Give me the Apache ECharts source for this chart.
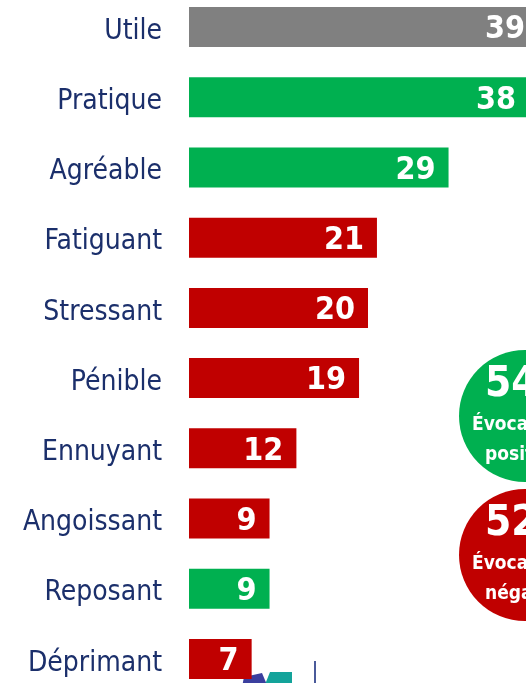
<!DOCTYPE html>
<html>
<head>
<meta charset="utf-8">
<script src="https://cdn.jsdelivr.net/npm/echarts@6/dist/echarts.min.js"></script>
<style>
  html, body { margin: 0; padding: 0; background: #fff; width: 526px; height: 683px; overflow: hidden; position: relative; }
  #barChart { position: absolute; left: 0; top: -8px; width: 580px; height: 720px; }
</style>
</head>
<body>
<div id="barChart"></div>
<script>
// données
var categories = ['Utile', 'Pratique', 'Agréable', 'Fatiguant', 'Stressant', 'Pénible', 'Ennuyant', 'Angoissant', 'Reposant', 'Déprimant'];
var values = [39, 38, 29, 21, 20, 19, 12, 9, 9, 7];
var tone = ['neutre', 'positif', 'positif', 'negatif', 'negatif', 'negatif', 'negatif', 'negatif', 'positif', 'negatif'];
var summaryValues = ['54', '52'];
var summaryWords = [['Évocations', 'positives'], ['Évocations', 'négatives']];

var colors = { neutre: '#808080', positif: '#00b050', negatif: '#c00000' };
var navy = '#1b2f6b';
var narrow = '"DejaVu Sans Condensed", "DejaVu Sans", sans-serif';

var chartContainer = document.getElementById('barChart');
var myChart = echarts.init(chartContainer);

var barData = values.map(function (v, i) {
  return { value: v, itemStyle: { color: colors[tone[i]] } };
});

// le conteneur est décalé de 8px vers le haut
function circle(cy, fill, big, words) {
  cy = cy + 8;
  return {
    type: 'group',
    children: [
      { type: 'circle', shape: { cx: 525, cy: cy, r: 66 }, style: { fill: fill } },
      { type: 'text', style: { x: 485, y: cy - 31, text: big, fill: '#fff', align: 'left', verticalAlign: 'middle',
          font: 'bold 42px ' + narrow } },
      { type: 'text', style: { x: 472, y: cy + 9, text: words[0], fill: '#fff', align: 'left', verticalAlign: 'middle',
          font: 'bold 19px ' + narrow } },
      { type: 'text', style: { x: 485, y: cy + 39, text: words[1], fill: '#fff', align: 'left', verticalAlign: 'middle',
          font: 'bold 19px ' + narrow } }
    ]
  };
}

var option = {
  animation: false,
  grid: { left: 189, width: 358, top: 0, height: 702, containLabel: false },
  xAxis: {
    type: 'value', min: 0, max: 40,
    show: false
  },
  yAxis: {
    type: 'category',
    inverse: true,
    data: categories,
    axisLine: { show: false },
    axisTick: { show: false },
    axisLabel: {
      margin: 27,
      formatter: function (v) { return '{a|' + v + '}'; },
      rich: {
        a: { color: navy, fontSize: 28, fontFamily: narrow, padding: [9, 0, 0, 0] }
      }
    }
  },
  series: [
    {
      type: 'bar',
      data: barData,
      barWidth: 40,
      label: {
        show: true,
        position: 'insideRight',
        distance: 13,
        offset: [0, 3],
        color: '#fff',
        fontSize: 32,
        fontWeight: 'bold',
        fontFamily: narrow
      }
    }
  ],
  graphic: [
    circle(416, '#00b050', summaryValues[0], summaryWords[0]),
    circle(555, '#c00000', summaryValues[1], summaryWords[1]),
    // logo coupé en bas
    { type: 'polygon', shape: { points: [[241, 700], [244, 685], [262, 681], [270, 700]] }, style: { fill: '#3b3f9e' } },
    { type: 'polygon', shape: { points: [[262, 700], [270, 680], [292, 680], [292, 700]] }, style: { fill: '#13a39a' } },
    { type: 'rect', shape: { x: 314, y: 669, width: 2, height: 30 }, style: { fill: '#4a5a9a' } }
  ]
};

myChart.setOption(option);
</script>
</body>
</html>
